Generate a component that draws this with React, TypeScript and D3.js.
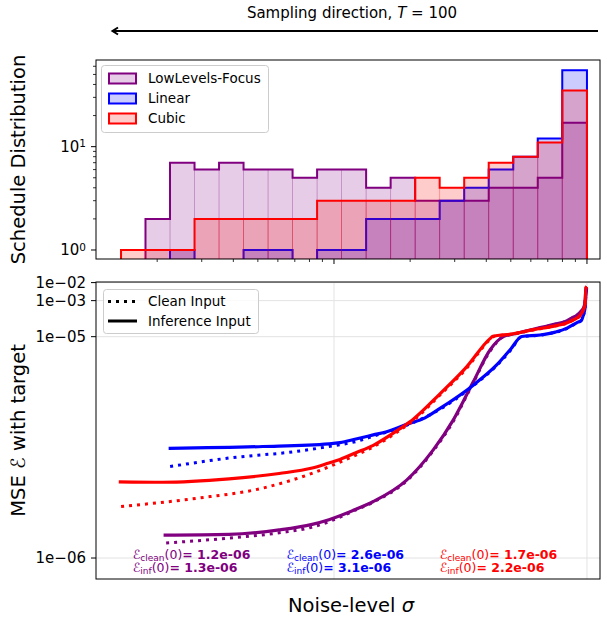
import React, { useRef, useEffect } from 'react';
import * as d3 from 'd3';

// histogram bins (noise level sigma, log-spaced) and counts per schedule (T = 100)
const binEdges = [0.1439, 0.1798, 0.2248, 0.281, 0.3512, 0.439, 0.5487, 0.6859, 0.8574, 1.0717,
  1.3397, 1.6747, 2.0934, 2.6168, 3.2711, 4.0889, 5.1112, 6.3892, 7.9866, 10.0];
const countsLowLevels = [0, 2, 7, 6, 7, 6, 6, 5, 6, 6, 4, 5, 3, 3, 3, 4, 4, 5, 17];
const countsLinear = [0, 0, 1, 0, 0, 1, 1, 0, 1, 1, 2, 2, 2, 3, 4, 6, 8, 12, 55];
const countsCubic = [1, 1, 1, 2, 2, 2, 2, 2, 3, 3, 3, 3, 5, 4, 5, 7, 8, 11, 35];

// MSE curves: [sigma, mse]
const lowLevelsClean = [
  [0.217, 1.17e-6], [0.385, 1.23e-6], [0.607, 1.30e-6], [0.82, 1.38e-6], [0.955, 1.46e-6],
  [1.221, 1.65e-6], [1.43, 1.79e-6], [1.937, 2.23e-6], [2.468, 3.05e-6], [2.963, 4.15e-6],
  [3.553, 6.2e-6], [4.138, 8.6e-6], [4.67, 1.0e-5], [5.2, 1.42e-5], [6.14, 2.55e-5],
  [7.5, 4.9e-5], [8.31, 7.4e-5], [8.83, 1.18e-4], [9.1, 1.48e-4], [9.53, 2.7e-4],
  [9.67, 3.6e-4], [9.82, 7.8e-4], [9.91, 4.7e-3], [9.97, 6e-3],
];
const lowLevelsInf = [
  [0.212, 1.27e-6], [0.385, 1.28e-6], [0.607, 1.34e-6], [0.82, 1.42e-6], [0.955, 1.49e-6],
  [1.221, 1.66e-6], [1.43, 1.8e-6], [1.937, 2.25e-6], [2.468, 3.08e-6], [2.963, 4.21e-6],
  [3.553, 6.25e-6], [4.138, 8.71e-6], [4.67, 1.0e-5], [5.2, 1.45e-5], [6.14, 2.6e-5],
  [7.5, 5.0e-5], [8.31, 7.5e-5], [8.83, 1.2e-4], [9.1, 1.5e-4], [9.53, 2.8e-4],
  [9.67, 3.74e-4], [9.82, 8e-4], [9.91, 4.8e-3], [9.97, 6e-3],
];
const linearClean = [
  [0.225, 2.59e-6], [0.385, 2.83e-6], [0.708, 3.03e-6], [0.955, 3.19e-6], [1.221, 3.36e-6],
  [1.43, 3.55e-6], [1.937, 3.98e-6], [2.624, 4.7e-6], [3.553, 6.0e-6], [4.396, 7.4e-6],
  [5.0, 8.7e-6], [5.52, 1.0e-5], [6.518, 1.22e-5], [7.5, 1.75e-5], [8.31, 2.8e-5],
  [9.1, 5.7e-5], [9.53, 8.2e-5], [9.64, 1.3e-4], [9.82, 3.6e-4], [9.89, 1.7e-3], [9.97, 5e-3],
];
const linearInf = [
  [0.222, 3.13e-6], [0.523, 3.19e-6], [0.955, 3.28e-6], [1.056, 3.32e-6], [1.221, 3.45e-6],
  [1.43, 3.6e-6], [1.615, 3.72e-6], [1.937, 4.02e-6], [2.289, 4.3e-6], [2.624, 4.74e-6],
  [3.553, 6.04e-6], [4.396, 7.45e-6], [5.0, 8.8e-6], [5.52, 1.02e-5], [6.518, 1.24e-5],
  [7.5, 1.8e-5], [8.31, 2.89e-5], [9.1, 5.9e-5], [9.53, 8.47e-5], [9.64, 1.34e-4],
  [9.82, 3.74e-4], [9.89, 1.73e-3], [9.97, 5e-3],
];
const cubicClean = [
  [0.144, 1.71e-6], [0.285, 1.86e-6], [0.523, 2.07e-6], [0.824, 2.42e-6], [1.221, 2.92e-6],
  [1.43, 3.18e-6], [1.823, 3.78e-6], [2.058, 4.18e-6], [2.624, 5.45e-6], [3.345, 7.2e-6],
  [4.138, 9.7e-6], [4.3, 1.05e-5], [5.0, 1.35e-5], [6.14, 2.35e-5], [7.5, 3.9e-5],
  [8.31, 5.6e-5], [8.83, 8.2e-5], [9.1, 1.0e-4], [9.53, 1.9e-4], [9.67, 2.9e-4],
  [9.82, 5.8e-4], [9.91, 4.7e-3], [9.97, 6e-3],
];
const cubicInf = [
  [0.141, 2.21e-6], [0.21, 2.2e-6], [0.385, 2.28e-6], [0.607, 2.41e-6], [0.82, 2.55e-6],
  [0.955, 2.69e-6], [1.056, 2.79e-6], [1.221, 2.99e-6], [1.43, 3.23e-6], [1.823, 3.84e-6],
  [2.058, 4.24e-6], [2.624, 5.52e-6], [3.345, 7.31e-6], [4.138, 9.8e-6], [4.25, 1.05e-5],
  [5.0, 1.38e-5], [6.14, 2.45e-5], [7.5, 4.0e-5], [8.31, 5.77e-5], [8.83, 8.47e-5],
  [9.1, 1.05e-4], [9.53, 2.0e-4], [9.67, 3.04e-4], [9.82, 6e-4], [9.91, 4.82e-3], [9.97, 6e-3],
];

const cleanAtZero = [1.2e-6, 2.6e-6, 1.7e-6];
const infAtZero = [1.3e-6, 3.1e-6, 2.2e-6];

const series = [
  { label: 'LowLevels-Focus', color: 'purple', counts: countsLowLevels, clean: lowLevelsClean, inf: lowLevelsInf },
  { label: 'Linear', color: 'blue', counts: countsLinear, clean: linearClean, inf: linearInf },
  { label: 'Cubic', color: 'red', counts: countsCubic, clean: cubicClean, inf: cubicInf },
];

const yTicksBottom = [1e-2, 1e-3, 1e-5, 1e-6];

const W = 607;
const H = 618;
const FONT = 'DejaVu Sans, sans-serif';

const fmtSci = (v: number) => v.toExponential(1).replace(/e([+-])(\d)$/, 'e$10$2');
const fmtTick = (v: number) => {
  const e = Math.round(Math.log10(v));
  return '1e' + (e < 0 ? '\u2212' : '+') + String(Math.abs(e)).padStart(2, '0');
};

const App = () => {
  const svgRef = useRef<SVGSVGElement>(null);

  useEffect(() => {
    const svg = d3.select(svgRef.current);
    svg.selectAll('*').remove();

    const left = 96, right = 600;
    const top1 = 60, bot1 = 259;
    const top2 = 282, bot2 = 579;

    const x = d3.scaleLog().domain([0.1146, 11.26]).range([left, right]);
    const yTop = d3.scaleLog().domain([0.818, 69]).range([bot1, top1]);

    // bottom axis: log below 1e-5, compressed log above
    const squash = 18 / 221;
    const tY = (v: number) => {
      const l = Math.log10(v);
      return l <= -5 ? l : -5 + (l + 5) * squash;
    };
    const yLin = d3.scaleLinear().domain([tY(8.04e-7), tY(1.08e-2)]).range([bot2, top2]);
    const yBot = (v: number) => yLin(tY(v));

    const defs = svg.append('defs');
    defs.append('clipPath').attr('id', 'clipTop')
      .append('rect').attr('x', left).attr('y', top1).attr('width', right - left).attr('height', bot1 - top1);
    defs.append('clipPath').attr('id', 'clipBot')
      .append('rect').attr('x', left).attr('y', top2).attr('width', right - left).attr('height', bot2 - top2);

    // title + arrow
    const title = svg.append('text')
      .attr('x', 352).attr('y', 18)
      .attr('text-anchor', 'middle')
      .style('font-family', FONT).style('font-size', '15px');
    title.append('tspan').text('Sampling direction, ');
    title.append('tspan').style('font-style', 'italic').text('T');
    title.append('tspan').text(' = 100');

    svg.append('line')
      .attr('x1', 598).attr('x2', 113).attr('y1', 31).attr('y2', 31)
      .attr('stroke', 'black').attr('stroke-width', 2);
    svg.append('path')
      .attr('d', 'M118,27.5 L112.5,31 L118,34.5')
      .attr('fill', 'none').attr('stroke', 'black').attr('stroke-width', 2);

    // ---------- top panel: histograms ----------
    const gTop = svg.append('g').attr('clip-path', 'url(#clipTop)');
    const yCount = (c: number) => (c > 0 ? yTop(c) : bot1 + 10);

    series.forEach(s => {
      s.counts.forEach((c, i) => {
        if (c <= 0) return;
        gTop.append('rect')
          .attr('x', x(binEdges[i]))
          .attr('width', x(binEdges[i + 1]) - x(binEdges[i]))
          .attr('y', yTop(c))
          .attr('height', bot1 - yTop(c))
          .attr('fill', s.color).attr('fill-opacity', 0.2)
          .attr('stroke', s.color).attr('stroke-opacity', 0.2).attr('stroke-width', 0.8);
      });
      const pts: [number, number][] = [[x(binEdges[0]), bot1 + 10]];
      s.counts.forEach((c, i) => {
        pts.push([x(binEdges[i]), yCount(c)]);
        pts.push([x(binEdges[i + 1]), yCount(c)]);
      });
      pts.push([x(binEdges[binEdges.length - 1]), bot1 + 10]);
      gTop.append('path')
        .attr('d', d3.line()(pts))
        .attr('fill', 'none').attr('stroke', s.color).attr('stroke-width', 2)
        .attr('stroke-linejoin', 'miter');
    });

    svg.append('rect')
      .attr('x', left).attr('y', top1).attr('width', right - left).attr('height', bot1 - top1)
      .attr('fill', 'none').attr('stroke', 'black').attr('stroke-width', 1);

    // top y ticks
    const majorsY = [1, 10];
    const minorsY = [2, 3, 4, 5, 6, 7, 8, 9, 20, 30, 40, 50, 60];
    majorsY.forEach((v, i) => {
      svg.append('line').attr('x1', left - 5).attr('x2', left).attr('y1', yTop(v)).attr('y2', yTop(v))
        .attr('stroke', 'black').attr('stroke-width', 1);
      const t = svg.append('text').attr('x', 86).attr('y', yTop(v)).attr('dy', '0.35em')
        .attr('text-anchor', 'end').style('font-family', FONT).style('font-size', '15px');
      t.append('tspan').text('10');
      t.append('tspan').attr('dy', '-0.45em').style('font-size', '10.5px').text(String(i));
    });
    minorsY.forEach(v => {
      svg.append('line').attr('x1', left - 3).attr('x2', left).attr('y1', yTop(v)).attr('y2', yTop(v))
        .attr('stroke', 'black').attr('stroke-width', 0.8);
    });

    // top x ticks (no labels)
    const majorsX = [1, 10];
    const minorsX = [0.2, 0.3, 0.4, 0.5, 0.6, 0.7, 0.8, 0.9, 2, 3, 4, 5, 6, 7, 8, 9];
    majorsX.forEach(v => {
      svg.append('line').attr('x1', x(v)).attr('x2', x(v)).attr('y1', bot1).attr('y2', bot1 + 5)
        .attr('stroke', 'black').attr('stroke-width', 1);
    });
    minorsX.forEach(v => {
      svg.append('line').attr('x1', x(v)).attr('x2', x(v)).attr('y1', bot1).attr('y2', bot1 + 3)
        .attr('stroke', 'black').attr('stroke-width', 0.8);
    });

    svg.append('text')
      .attr('transform', `translate(25,${(top1 + bot1) / 2}) rotate(-90)`)
      .attr('text-anchor', 'middle')
      .style('font-family', FONT).style('font-size', '19.5px')
      .text('Schedule Distribution');

    // top legend
    svg.append('rect')
      .attr('x', 101.5).attr('y', 65.5).attr('width', 167).attr('height', 67).attr('rx', 3)
      .attr('fill', 'white').attr('fill-opacity', 0.8).attr('stroke', '#cccccc');
    series.forEach((s, i) => {
      const cy = 78.5 + i * 20;
      svg.append('rect').attr('x', 109).attr('y', cy - 5).attr('width', 27).attr('height', 10)
        .attr('fill', s.color).attr('fill-opacity', 0.2)
        .attr('stroke', s.color).attr('stroke-width', 2);
      svg.append('text').attr('x', 148).attr('y', cy).attr('dy', '0.35em')
        .style('font-family', FONT).style('font-size', '13.5px').text(s.label);
    });

    // ---------- bottom panel: MSE ----------
    const gridColor = '#e3e3e3';
    yTicksBottom.forEach(v => {
      svg.append('line').attr('x1', left).attr('x2', right).attr('y1', yBot(v)).attr('y2', yBot(v))
        .attr('stroke', gridColor).attr('stroke-width', 1);
    });
    majorsX.forEach(v => {
      svg.append('line').attr('x1', x(v)).attr('x2', x(v)).attr('y1', top2).attr('y2', bot2)
        .attr('stroke', gridColor).attr('stroke-width', 1);
    });

    const gBot = svg.append('g').attr('clip-path', 'url(#clipBot)');
    const line = d3.line<number[]>()
      .x(d => x(d[0]))
      .y(d => yBot(d[1]))
      .curve(d3.curveMonotoneX);

    series.forEach(s => {
      gBot.append('path').datum(s.clean)
        .attr('d', line)
        .attr('fill', 'none').attr('stroke', s.color).attr('stroke-width', 3)
        .attr('stroke-dasharray', '3 5');
      gBot.append('path').datum(s.inf)
        .attr('d', line)
        .attr('fill', 'none').attr('stroke', s.color).attr('stroke-width', 3.2);
    });

    svg.append('rect')
      .attr('x', left).attr('y', top2).attr('width', right - left).attr('height', bot2 - top2)
      .attr('fill', 'none').attr('stroke', 'black').attr('stroke-width', 1);

    yTicksBottom.forEach(v => {
      svg.append('line').attr('x1', left - 5).attr('x2', left).attr('y1', yBot(v)).attr('y2', yBot(v))
        .attr('stroke', 'black').attr('stroke-width', 1);
      svg.append('text').attr('x', 86).attr('y', yBot(v)).attr('dy', '0.35em')
        .attr('text-anchor', 'end').style('font-family', FONT).style('font-size', '15px')
        .text(fmtTick(v));
    });

    const yl = svg.append('text')
      .attr('transform', `translate(25,${(top2 + bot2) / 2}) rotate(-90)`)
      .attr('text-anchor', 'middle')
      .style('font-family', FONT).style('font-size', '19.5px');
    yl.append('tspan').text('MSE ');
    yl.append('tspan').text('\u2130');
    yl.append('tspan').text(' with target');

    const xl = svg.append('text')
      .attr('x', (left + right) / 2 + 3).attr('y', 612)
      .attr('text-anchor', 'middle')
      .style('font-family', FONT).style('font-size', '19.5px');
    xl.append('tspan').text('Noise-level ');
    xl.append('tspan').style('font-style', 'italic').text('\u03c3');

    // bottom legend
    svg.append('rect')
      .attr('x', 103.5).attr('y', 289.5).attr('width', 155).attr('height', 44).attr('rx', 3)
      .attr('fill', 'white').attr('fill-opacity', 0.8).attr('stroke', '#cccccc');
    [['Clean Input', '3 5'], ['Inference Input', null]].forEach(([lab, dash], i) => {
      const cy = 301.5 + i * 19.5;
      const l = svg.append('line').attr('x1', 108).attr('x2', 137).attr('y1', cy).attr('y2', cy)
        .attr('stroke', 'black').attr('stroke-width', 3);
      if (dash) l.attr('stroke-dasharray', dash);
      svg.append('text').attr('x', 148).attr('y', cy).attr('dy', '0.35em')
        .style('font-family', FONT).style('font-size', '13.5px').text(lab as string);
    });

    // E(0) annotations
    const annoFrac = [0.073, 0.378, 0.682];
    series.forEach((s, i) => {
      const ax = left + annoFrac[i] * (right - left);
      [['clean', cleanAtZero[i], 558.5], ['inf', infAtZero[i], 572]].forEach(([sub, val, by]) => {
        const t = svg.append('text').attr('x', ax).attr('y', by as number)
          .attr('fill', s.color).style('font-family', FONT).style('font-size', '12.5px');
        t.append('tspan').text('\u2130');
        t.append('tspan').attr('dy', 2).style('font-size', '9px').text(sub as string);
        t.append('tspan').attr('dy', -2).text('(0)');
        t.append('tspan').style('font-weight', 'bold').text('= ' + fmtSci(val as number));
      });
    });
  }, []);

  return (
    <div style={{ position: 'absolute', left: 0, top: 0, background: 'white' }}>
      <svg ref={svgRef} width={W} height={H} style={{ display: 'block' }} />
    </div>
  );
};

export default App;
